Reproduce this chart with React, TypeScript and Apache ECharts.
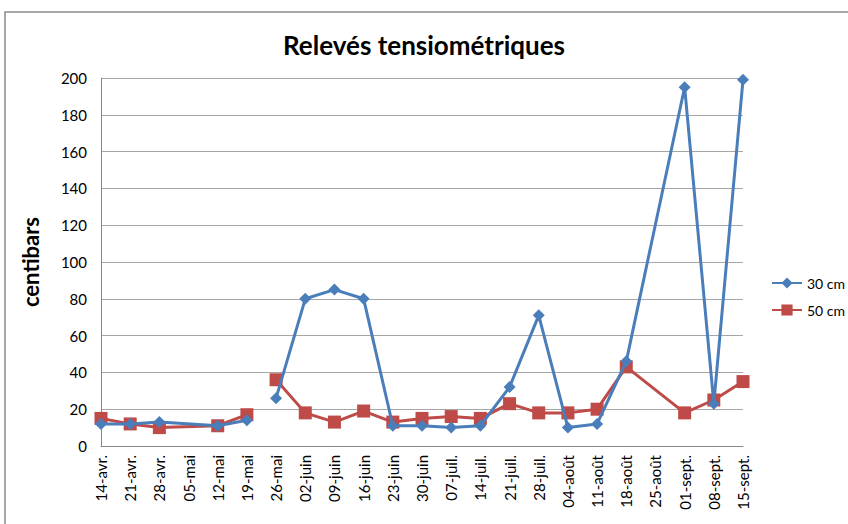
import React, { useEffect, useRef } from "react";
import * as echarts from "echarts";

const categories = [
  "14-avr.", "21-avr.", "28-avr.", "05-mai", "12-mai", "19-mai", "26-mai",
  "02-juin", "09-juin", "16-juin", "23-juin", "30-juin", "07-juil.", "14-juil.",
  "21-juil.", "28-juil.", "04-août", "11-août", "18-août", "25-août",
  "01-sept.", "08-sept.", "15-sept.",
];

// first measurement period (before the gap) and second period
const s30a = [12, 12, 13, null, 11, 14];
const s30b = [26, 80, 85, 80, 11, 11, 10, 11, 32, 71, 10, 12, 46, null, 195, 23, 199];
const s50a = [15, 12, 10, null, 11, 17];
const s50b = [36, 18, 13, 19, 13, 15, 16, 15, 23, 18, 18, 20, 43, null, 18, 25, 35];

const seriesNames = ["30 cm", "50 cm"];
const yTicks = { min: 0, max: 200, interval: 20 };

const BLUE = "#4a7ebb";
const RED = "#be4b48";
const FONT = "Lato, 'Open Sans', sans-serif";

function full(first: (number | null)[], second: (number | null)[]) {
  const a: (number | null)[] = categories.map(() => null);
  const b: (number | null)[] = categories.map(() => null);
  first.forEach((v, i) => (a[i] = v));
  second.forEach((v, i) => (b[first.length + i] = v));
  return [a, b];
}

export default function App() {
  const ref = useRef<HTMLDivElement>(null);
  useEffect(() => {
    document.body.style.margin = "0";
    const chart = echarts.init(ref.current!, null, { renderer: "svg" });
    const [a30, b30] = full(s30a, s30b);
    const [a50, b50] = full(s50a, s50b);
    const mk = (name: string, data: (number | null)[], color: string, symbol: string, size: number, z: number) => ({
      type: "line",
      name,
      data,
      connectNulls: true,
      symbol,
      symbolSize: size,
      showAllSymbol: true,
      z,
      lineStyle: { color, width: 3 },
      itemStyle: { color },
    });
    chart.setOption({
      animation: false,
      textStyle: { fontFamily: FONT },
      title: {
        text: "Relevés tensiométriques",
        left: "center",
        top: 27,
        textStyle: { fontSize: 26, fontWeight: "bold", color: "#000", fontFamily: FONT },
      },
      legend: {
        data: seriesNames,
        orient: "vertical",
        left: 766,
        top: 271,
        itemWidth: 30,
        itemHeight: 14,
        itemGap: 13,
        textStyle: { fontSize: 14, color: "#000", fontFamily: FONT },
      },
      grid: { left: 101, right: 105, top: 78, bottom: 78 },
      xAxis: {
        type: "category",
        data: categories,
        boundaryGap: false,
        axisLine: { lineStyle: { color: "#888", width: 1 } },
        axisTick: { show: false },
        axisLabel: { rotate: 90, interval: 0, fontSize: 15, color: "#000", margin: 9, fontFamily: FONT },
      },
      yAxis: {
        type: "value",
        min: yTicks.min,
        max: yTicks.max,
        interval: yTicks.interval,
        axisLine: { show: true, lineStyle: { color: "#888", width: 1 } },
        axisTick: { show: false },
        splitLine: { lineStyle: { color: "#a6a6a6", width: 1 } },
        axisLabel: { fontSize: 15, color: "#000", margin: 14, fontFamily: FONT },
      },
      graphic: [
        {
          type: "rect",
          shape: { x: 5, y: 12, width: 1000, height: 800 },
          style: { fill: "none", stroke: "#8c8c8c", lineWidth: 1.5 },
          silent: true,
        },
        {
          type: "text",
          x: 30,
          y: 262,
          rotation: Math.PI / 2,
          style: {
            text: "centibars",
            fontSize: 22,
            fontWeight: "bold",
            fill: "#000",
            fontFamily: FONT,
            align: "center",
            verticalAlign: "middle",
          },
        },
      ],
      series: [
        mk(seriesNames[0], a30, BLUE, "diamond", 12, 3),
        mk(seriesNames[0], b30, BLUE, "diamond", 12, 3),
        mk(seriesNames[1], a50, RED, "rect", 13, 2),
        mk(seriesNames[1], b50, RED, "rect", 13, 2),
      ],
    });
    return () => chart.dispose();
  }, []);
  return <div ref={ref} style={{ width: 848, height: 524 }} />;
}
